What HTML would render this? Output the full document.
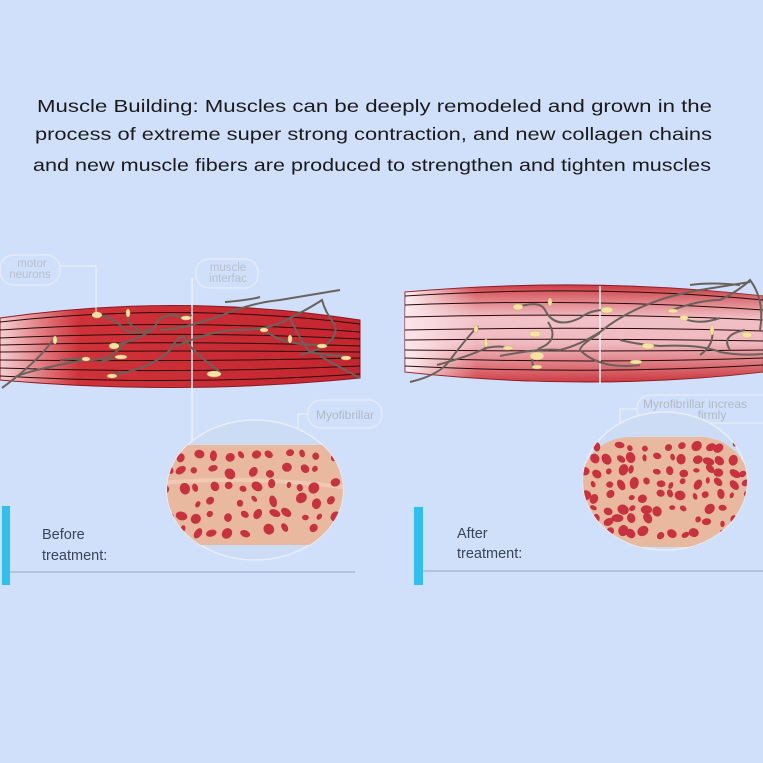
<!DOCTYPE html>
<html><head><meta charset="utf-8"><style>
html,body{margin:0;padding:0;background:#d0e0fa;}
svg{display:block}
text{font-family:"Liberation Sans",sans-serif}
</style></head><body>
<svg id="s" width="763" height="763" viewBox="0 0 763 763" xmlns="http://www.w3.org/2000/svg">
<defs>
<linearGradient id="gL" x1="0" x2="1" y1="0" y2="0">
<stop offset="0" stop-color="#f4d0d2"/><stop offset="0.22" stop-color="#d0323a"/><stop offset="1" stop-color="#c42630"/></linearGradient>
<linearGradient id="gR" x1="0" x2="1" y1="0" y2="0">
<stop offset="0" stop-color="#fbeef0"/><stop offset="0.2" stop-color="#d04048"/><stop offset="1" stop-color="#c83038"/></linearGradient>
<linearGradient id="gRv" x1="0" x2="0" y1="0" y2="1">
<stop offset="0" stop-color="#fff" stop-opacity="0"/><stop offset="0.35" stop-color="#fbe4ea" stop-opacity="0.8"/><stop offset="0.6" stop-color="#fbe4ea" stop-opacity="0.75"/><stop offset="1" stop-color="#fff" stop-opacity="0"/></linearGradient>
<clipPath id="cL"><ellipse cx="255" cy="490" rx="88" ry="70"/></clipPath>
<clipPath id="cR"><ellipse cx="665" cy="481" rx="82" ry="69"/></clipPath>
</defs>
<rect width="763" height="763" fill="#d0e0fa"/>
<text x="37" y="112" font-size="17.5" fill="#1a1a1a" textLength="675" lengthAdjust="spacingAndGlyphs">Muscle Building: Muscles can be deeply remodeled and grown in the</text>
<text x="35" y="140" font-size="17.5" fill="#1a1a1a" textLength="677" lengthAdjust="spacingAndGlyphs">process of extreme super strong contraction, and new collagen chains</text>
<text x="33" y="171" font-size="17.5" fill="#1a1a1a" textLength="678" lengthAdjust="spacingAndGlyphs">and new muscle fibers are produced to strengthen and tighten muscles</text>

<path d="M0,318 Q180,292 360,320 L360,378 Q180,396 0,380 Z" fill="url(#gL)" stroke="#8a1a20" stroke-width="1"/>
<g stroke="#2a0a0a" stroke-width="1" fill="none">
<path d="M0,322 Q180,302 360,324"/><path d="M0,330 Q180,318 360,332"/><path d="M0,338 Q180,330 360,339"/><path d="M0,345 Q180,340 360,346"/><path d="M0,352 Q180,350 360,352"/><path d="M0,360 Q180,362 360,358"/><path d="M0,368 Q180,374 360,366"/><path d="M0,376 Q180,386 360,374"/>
</g>
<line x1="192" y1="278" x2="192" y2="446" stroke="#f2f2f2" stroke-width="1.5"/>
<g stroke="#6a625c" stroke-width="2" fill="none">
<path d="M2,388 Q40,360 55,337 M15,377 Q30,370 85,360 Q110,362 125,343 M60,360 L85,358 M100,362 L118,357"/>
<path d="M98,315 Q115,318 125,330 Q140,336 150,328 M128,313 Q125,325 140,330"/>
<path d="M115,345 Q140,340 155,327 Q160,310 185,318 Q195,313 188,317 M160,330 Q180,330 220,316 Q250,303 280,300 L340,290"/>
<path d="M110,375 Q150,370 170,350 Q175,340 183,336 Q190,350 220,372 M175,347 Q210,330 240,330 Q270,330 290,318 Q310,308 322,300 Q325,312 335,325 Q340,345 300,355"/>
<path d="M225,302 Q250,300 260,297 M265,330 Q280,345 320,345 M290,318 Q300,340 310,352 Q320,355 345,356 M320,356 Q330,362 360,378"/>
</g>
<g fill="#f6e3a3" stroke="#c9b16a" stroke-width="0.5">
<ellipse cx="97" cy="315" rx="5" ry="3"/><ellipse cx="128" cy="313" rx="2" ry="4"/><ellipse cx="186" cy="318" rx="5" ry="2"/><ellipse cx="114" cy="346" rx="5" ry="3"/><ellipse cx="86" cy="359" rx="4" ry="2"/><ellipse cx="121" cy="357" rx="6" ry="2"/><ellipse cx="112" cy="376" rx="5" ry="2"/><ellipse cx="214" cy="374" rx="7" ry="3"/><ellipse cx="264" cy="330" rx="4" ry="2"/><ellipse cx="290" cy="339" rx="2" ry="4"/><ellipse cx="322" cy="346" rx="5" ry="2"/><ellipse cx="346" cy="358" rx="5" ry="2"/><ellipse cx="55" cy="340" rx="2" ry="4"/>
</g>
<rect x="0" y="255" width="60" height="30" rx="14" fill="none" stroke="#e6ecf6" stroke-width="1.3"/>
<text x="32" y="267" font-size="11.5" fill="#b7bfcc" text-anchor="middle">motor</text>
<text x="30" y="278" font-size="11.5" fill="#b7bfcc" text-anchor="middle">neurons</text>
<path d="M60,266 L96,266 L96,313" stroke="#f0f2f6" fill="none"/>
<rect x="196" y="259" width="62" height="29" rx="13" fill="none" stroke="#e6ecf6" stroke-width="1.3"/>
<text x="228" y="271" font-size="11.5" fill="#b7bfcc" text-anchor="middle">muscle</text>
<text x="228" y="282" font-size="11.5" fill="#b7bfcc" text-anchor="middle">interfac</text>
<rect x="308" y="400" width="74" height="28" rx="13" fill="none" stroke="#e6ecf6" stroke-width="1.3"/>
<text x="345" y="419" font-size="12" fill="#b0b8c4" text-anchor="middle">Myofibrillar</text>
<path d="M308,414 L298,414 L298,458" stroke="#f0f2f6" fill="none"/>
<ellipse cx="255" cy="490" rx="88" ry="70" fill="#ccdcf4" stroke="#e9edf5" stroke-width="1.5"/>
<g clip-path="url(#cL)"><rect x="160" y="445" width="190" height="100" fill="#e8b89f"/>
<path d="M160,483 Q255,475 350,488" stroke="#efc9b4" stroke-width="4" fill="none"/>
<g id="dL"></g></g>

<path d="M405,292 Q590,276 763,296 L763,372 Q590,392 405,372 Z" fill="url(#gR)" stroke="#8a1a20"/>
<path d="M405,292 Q590,276 763,296 L763,372 Q590,392 405,372 Z" fill="url(#gRv)"/>
<g stroke="#2a0a0a" stroke-width="1" fill="none">
<path d="M405,296 Q590,284 763,300"/><path d="M405,305 Q590,298 763,310"/><path d="M405,317 Q590,312 763,320"/><path d="M405,330 Q590,326 763,331"/><path d="M405,340 Q590,338 763,341"/><path d="M405,350 Q590,352 763,350"/><path d="M405,358 Q590,364 763,358"/><path d="M405,366 Q590,375 763,365"/>
</g>
<line x1="600" y1="286" x2="600" y2="384" stroke="#f5f5f5" stroke-width="1.5"/>
<g stroke="#6a625c" stroke-width="2" fill="none">
<path d="M410,382 Q440,375 450,360 Q465,340 478,326 M437,365 Q470,356 486,348 Q500,345 508,348 M485,350 L487,340"/>
<path d="M518,307 Q540,300 545,310 Q555,330 580,318 Q590,310 605,310 M548,322 Q560,340 540,348 Q530,355 533,366 M500,356 Q540,348 560,350 Q580,345 600,332 Q640,300 700,290 L750,282"/>
<path d="M600,333 Q580,345 580,350 Q600,370 640,365 M620,340 Q640,345 660,346 Q700,344 720,352 Q740,356 763,354"/>
<path d="M672,310 Q700,300 720,300 Q740,290 750,280 Q765,300 760,330 M685,319 Q700,325 720,318 M712,328 Q715,345 700,355 M745,330 Q720,335 730,350"/>
<path d="M690,285 Q710,282 740,285"/>
</g>
<g fill="#f6e3a3" stroke="#c9b16a" stroke-width="0.5">
<ellipse cx="518" cy="307" rx="5" ry="3"/><ellipse cx="550" cy="302" rx="2" ry="4"/><ellipse cx="607" cy="310" rx="6" ry="3"/><ellipse cx="535" cy="334" rx="6" ry="3"/><ellipse cx="476" cy="329" rx="2" ry="4"/><ellipse cx="486" cy="343" rx="2" ry="4"/><ellipse cx="508" cy="348" rx="5" ry="2"/><ellipse cx="537" cy="356" rx="7" ry="4"/><ellipse cx="537" cy="367" rx="5" ry="2"/><ellipse cx="636" cy="362" rx="6" ry="2"/><ellipse cx="673" cy="311" rx="5" ry="2"/><ellipse cx="684" cy="318" rx="4" ry="3"/><ellipse cx="712" cy="330" rx="2" ry="5"/><ellipse cx="747" cy="335" rx="5" ry="3"/><ellipse cx="648" cy="346" rx="6" ry="3"/>
</g>
<rect x="637" y="395" width="140" height="28" rx="13" fill="none" stroke="#e6ecf6" stroke-width="1.3"/>
<text x="643" y="408" font-size="12" fill="#b0b8c4">Myrofibrillar increas</text>
<text x="712" y="419" font-size="12" fill="#b0b8c4" text-anchor="middle">firmly</text>
<path d="M637,409 L620,409 L620,455" stroke="#f0f2f6" fill="none"/>
<ellipse cx="665" cy="481" rx="82" ry="69" fill="#ccdcf4" stroke="#e9edf5" stroke-width="1.5"/>
<g clip-path="url(#cR)"><rect x="580" y="437" width="170" height="110" rx="50" fill="#e8b89f"/>
<g id="dR"></g></g>

<rect x="2" y="506" width="8" height="79" fill="#2ec0ef"/>
<line x1="10" y1="572" x2="355" y2="572" stroke="#9aa7ba" stroke-width="1"/>
<text x="42" y="539" font-size="14.5" fill="#3a4458">Before</text>
<text x="42" y="560" font-size="14.5" fill="#3a4458">treatment:</text>
<rect x="414" y="507" width="9" height="78" fill="#2ec0ef"/>
<line x1="423" y1="571" x2="763" y2="571" stroke="#9aa7ba" stroke-width="1"/>
<text x="457" y="538" font-size="14.5" fill="#3a4458">After</text>
<text x="457" y="558" font-size="14.5" fill="#3a4458">treatment:</text>
</svg>
<script>
(function(){
var s=7;function r(){s=(s*16807)%2147483647;return s/2147483647;}
function fill(id,cx,cy,rx,ry,y0,y1,step,sz){
 var g=document.getElementById(id),h='';
 for(var y=y0;y<y1;y+=step)for(var x=cx-rx;x<cx+rx;x+=step){
  var px=x+(r()-.5)*step*0.5,py=y+(r()-.5)*step*0.5;
  if(r()<0.12)continue;
  var a=sz*(0.6+r()*0.6),b=a*(0.6+r()*0.35);
  h+='<ellipse cx="'+px.toFixed(1)+'" cy="'+py.toFixed(1)+'" rx="'+a.toFixed(1)+'" ry="'+b.toFixed(1)+'" transform="rotate('+Math.floor(r()*180)+' '+px.toFixed(1)+' '+py.toFixed(1)+')" fill="#c8323e"/>';
 }
 g.innerHTML=h;
}
fill('dL',255,490,88,70,456,545,15,5);
fill('dR',665,481,82,69,446,545,12.5,5);
})();
</script>
</body></html>
